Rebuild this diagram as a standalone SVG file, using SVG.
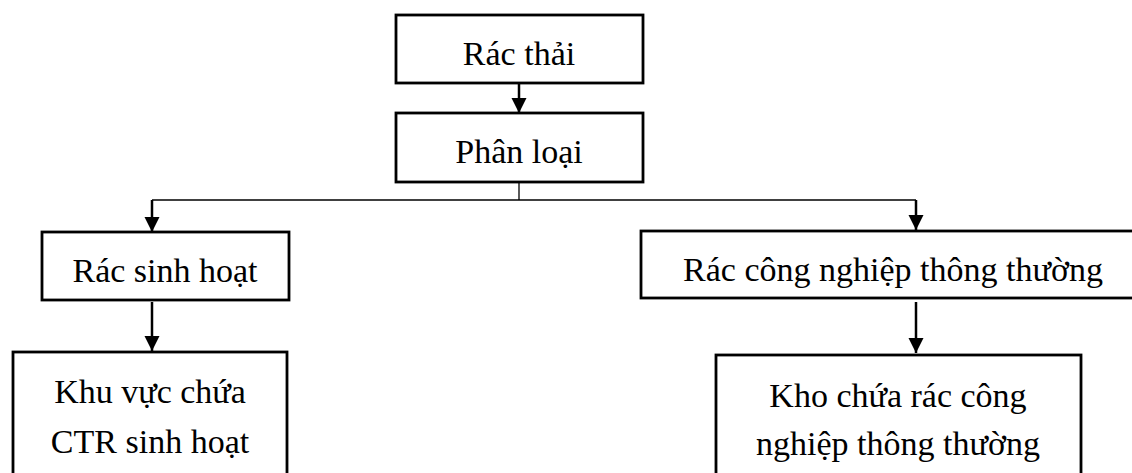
<svg xmlns="http://www.w3.org/2000/svg" width="1132" height="473" viewBox="0 0 1132 473">
<style>
.box{fill:#fff;stroke:#000;stroke-width:2.8}
.t{font-family:"Liberation Serif","Times New Roman",serif;font-size:34px;fill:#000;text-anchor:middle}
.arr{stroke:#000;stroke-width:2.5;fill:none}
.thin{stroke:#000;stroke-width:1.3;fill:none}
</style>
<defs>
<marker id="down" markerUnits="userSpaceOnUse" markerWidth="16" markerHeight="16" refX="15" refY="7.5" orient="auto" viewBox="0 0 16 15">
<path d="M0,0 L15,7.5 L0,15 Z" fill="#000"/>
</marker>
</defs>
<rect width="1132" height="473" fill="#fff"/>
<g id="connectors">
<line class="arr" x1="519" y1="83" x2="519" y2="113" marker-end="url(#down)"/>
<polyline class="thin" points="519,182 519,200"/>
<polyline class="thin" points="152,200 916,200"/>
<line class="arr" x1="152" y1="200" x2="152" y2="232" marker-end="url(#down)"/>
<line class="arr" x1="916" y1="200" x2="916" y2="230" marker-end="url(#down)"/>
<line class="arr" x1="152" y1="302" x2="152" y2="351" marker-end="url(#down)"/>
<line class="arr" x1="916" y1="302" x2="916" y2="353" marker-end="url(#down)"/>
</g>
<g id="rac-thai">
<rect class="box" x="396" y="15" width="247" height="68"/>
<text class="t" x="519" y="65">Rác thải</text>
</g>
<g id="phan-loai">
<rect class="box" x="396" y="113" width="247" height="69"/>
<text class="t" x="519" y="163">Phân loại</text>
</g>
<g id="rac-sinh-hoat">
<rect class="box" x="42" y="232" width="247" height="68"/>
<text class="t" x="165" y="282">Rác sinh hoạt</text>
</g>
<g id="rac-cong-nghiep">
<rect class="box" x="641" y="231" width="504" height="67"/>
<text class="t" x="893" y="281">Rác công nghiệp thông thường</text>
</g>
<g id="khu-vuc-chua">
<rect class="box" x="13" y="352" width="274" height="140"/>
<text class="t" x="150" y="403">Khu vực chứa</text>
<text class="t" x="150" y="453">CTR sinh hoạt</text>
</g>
<g id="kho-chua">
<rect class="box" x="716" y="355" width="365" height="140"/>
<text class="t" x="898" y="407">Kho chứa rác công</text>
<text class="t" x="898" y="455">nghiệp thông thường</text>
</g>
</svg>
